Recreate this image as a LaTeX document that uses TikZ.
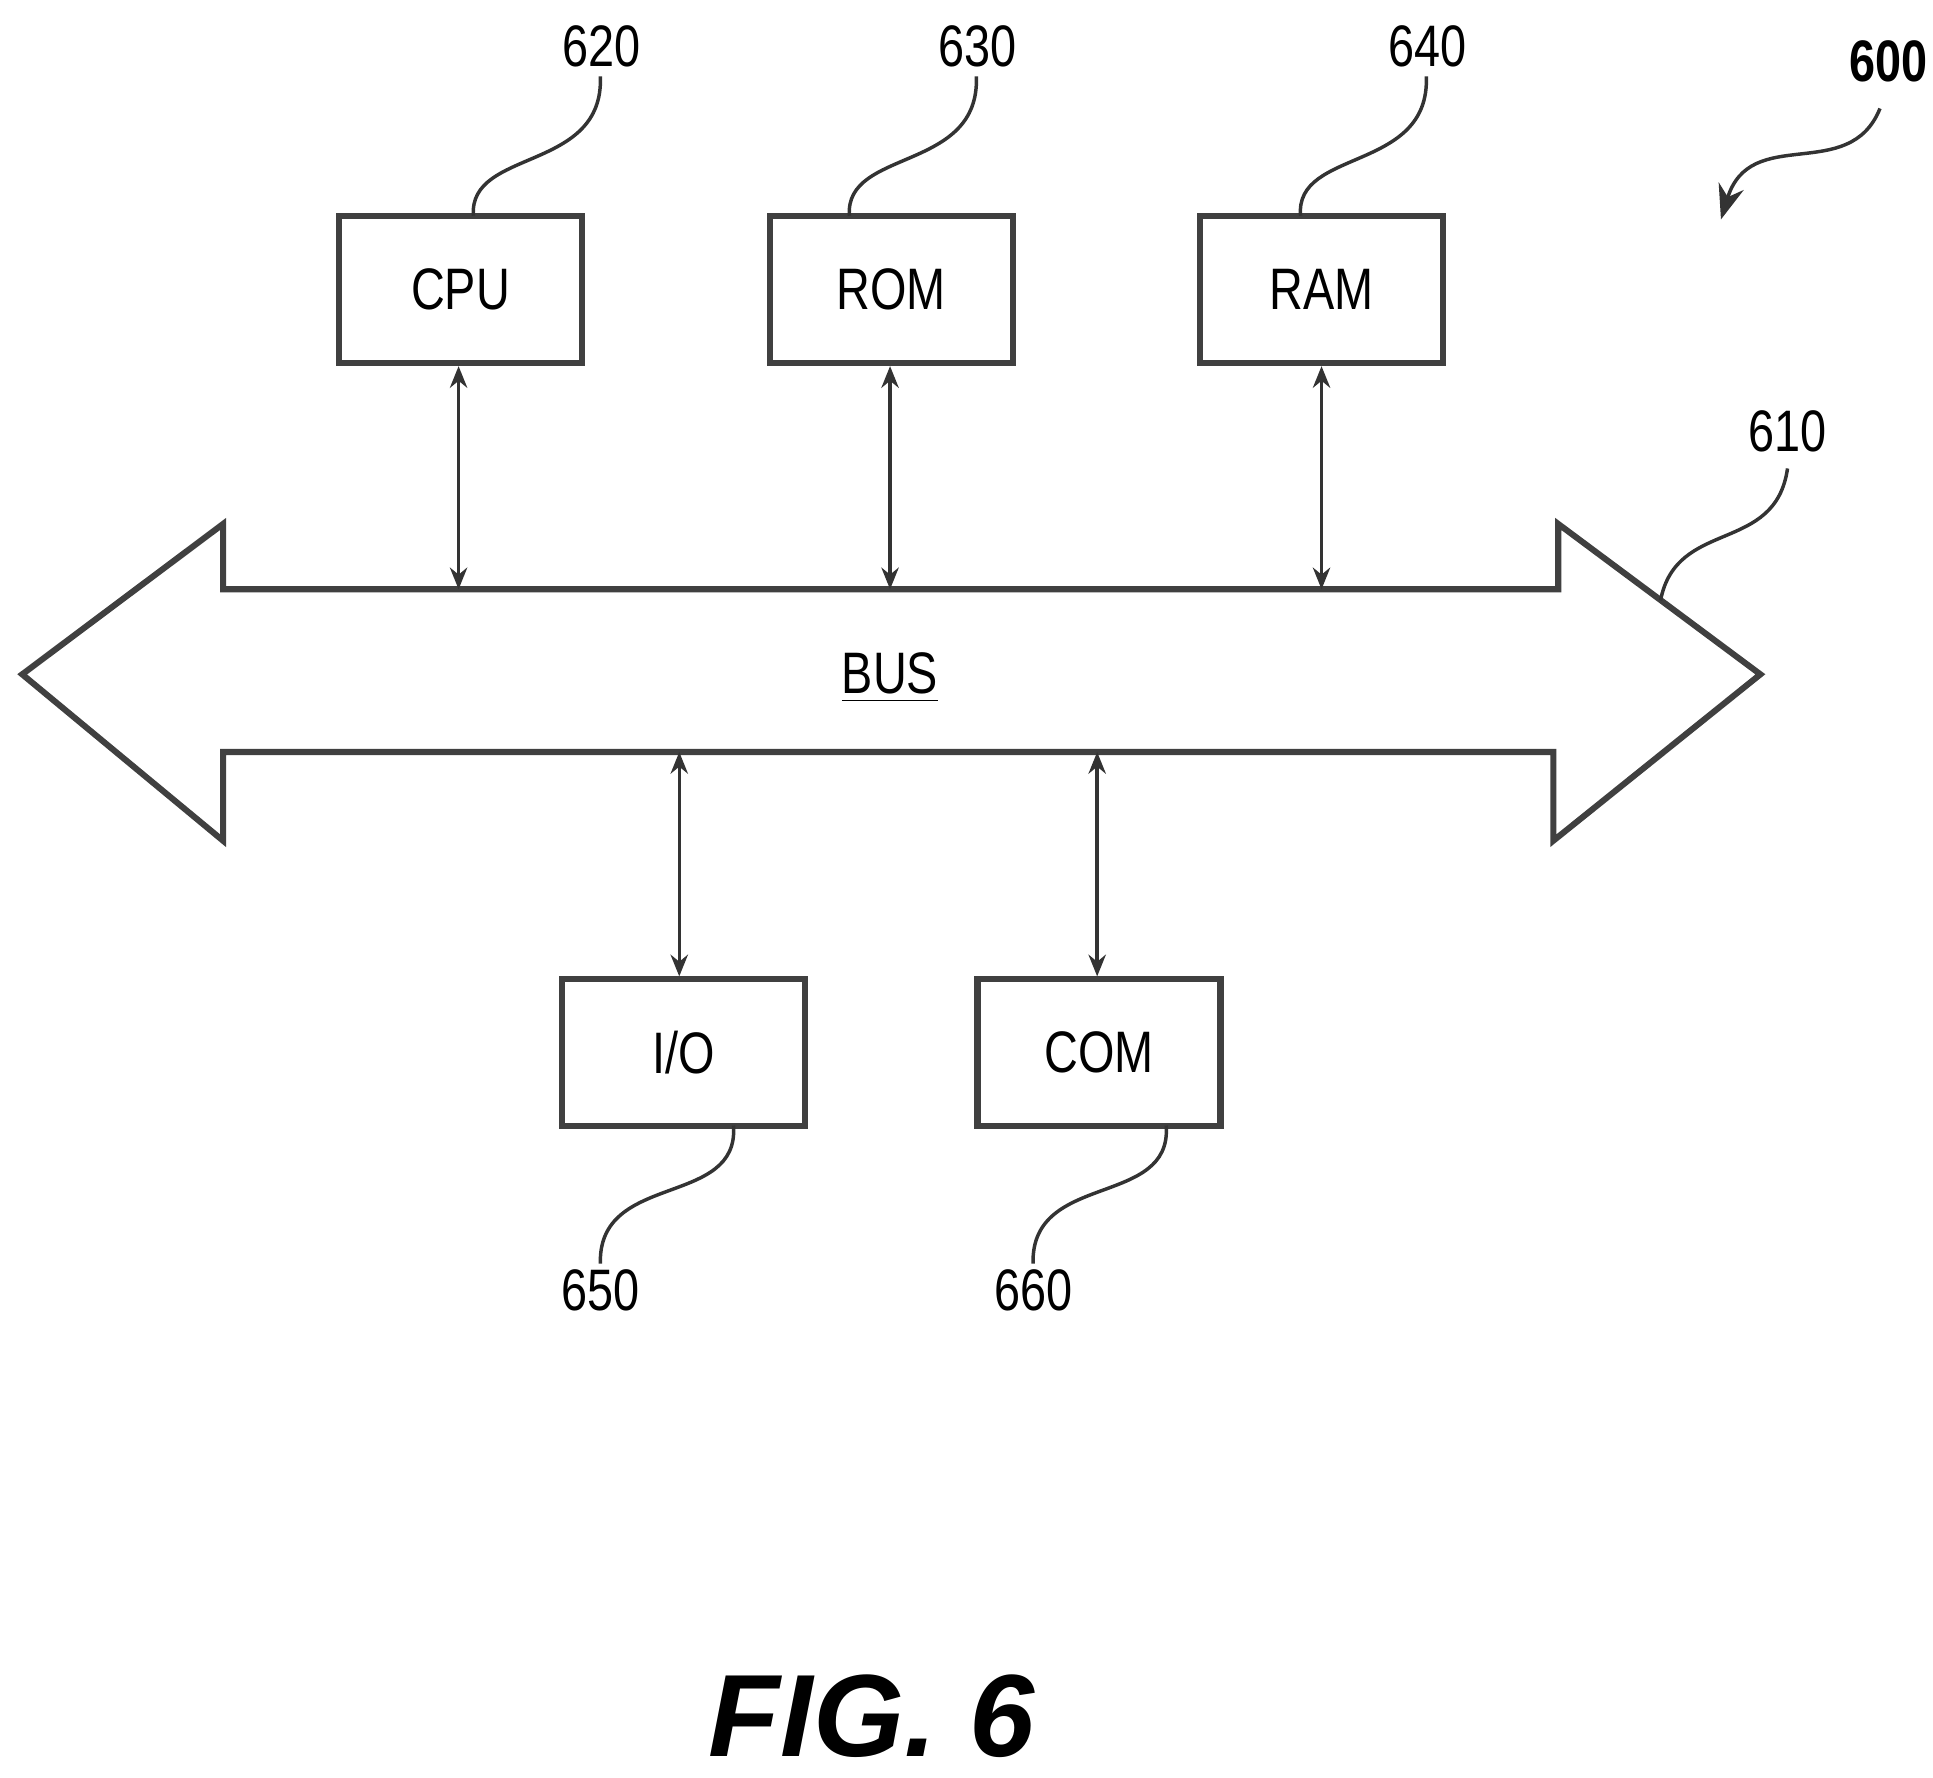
\documentclass[tikz,border=0pt]{standalone}
\usepackage{fontspec}
\setmainfont{Liberation Sans}
\usetikzlibrary{arrows.meta}
\begin{document}
\begin{tikzpicture}[x=0.01cm,y=-0.01cm,
  box/.style={draw=black!75,line width=1.4pt,minimum width=1.97cm,minimum height=1.19cm,inner sep=0pt,font=\fontsize{13.5}{13.5}\selectfont\addfontfeature{FakeStretch=0.8}},
  lbl/.style={font=\fontsize{13.5}{13.5}\selectfont\addfontfeature{FakeStretch=0.8}},
  dbl/.style={black!80,line width=0.8pt,{Stealth[length=5pt,width=4pt]}-{Stealth[length=5pt,width=4pt]}},
  lead/.style={black!80,line width=0.8pt}]
\useasboundingbox (0,0) rectangle (1568,1442);
\draw[draw=black!75,line width=1.4pt,fill=white] (18,547) -- (181,425) -- (181,478) -- (1264,478) -- (1264,425) -- (1428,547) -- (1260,682) -- (1260,610) -- (181,610) -- (181,682) -- cycle;
\node[lbl] (bus) at (722,550) {\underline{BUS}};
\node[box] (cpu) at (373.5,235) {CPU};
\node[box] (rom) at (723,235) {ROM};
\node[box] (ram) at (1072,235) {RAM};
\node[box] (io) at (554.5,854) {I/O};
\node[box] (com) at (891.5,854) {COM};
\coordinate (b1) at (372,478); \coordinate (b2) at (722,478); \coordinate (b3) at (1072,478);
\coordinate (b4) at (551,610); \coordinate (b5) at (890,610);
\draw[dbl] (cpu.south -| b1) -- (b1);
\draw[dbl] (rom.south -| b2) -- (b2);
\draw[dbl] (ram.south -| b3) -- (b3);
\draw[dbl] (b4) -- (io.north -| b4);
\draw[dbl] (b5) -- (com.north -| b5);
\node[lbl] (l620) at (488,38) {620};
\node[lbl] (l630) at (793,38) {630};
\node[lbl] (l640) at (1158,38) {640};
\node[lbl] (l610) at (1450,350) {610};
\node[lbl] (l650) at (487,1047) {650};
\node[lbl] (l660) at (838,1047) {660};
\node[lbl,font=\fontsize{13.5}{13.5}\bfseries\selectfont\addfontfeature{FakeStretch=0.8}] (l600) at (1532,50) {600};
\draw[lead] (384,175) .. controls (380,120) and (490,140) .. (487,62);
\draw[lead] (689,175) .. controls (685,120) and (795,140) .. (792,62);
\draw[lead] (1055,175) .. controls (1050,120) and (1160,140) .. (1157,62);
\draw[lead] (1347,487) .. controls (1360,420) and (1440,450) .. (1450,380);
\draw[lead] (595,913) .. controls (600,980) and (485,950) .. (487,1025);
\draw[lead] (946,913) .. controls (951,980) and (836,950) .. (838,1025);
\draw[lead,-{Stealth[length=8pt,width=6pt]}] (1525,88) .. controls (1500,150) and (1420,100) .. (1396,178);
\node[font=\fontsize{27}{27}\bfseries\itshape\selectfont] (fig) at (707,1392) {FIG. 6};
\end{tikzpicture}
\end{document}
